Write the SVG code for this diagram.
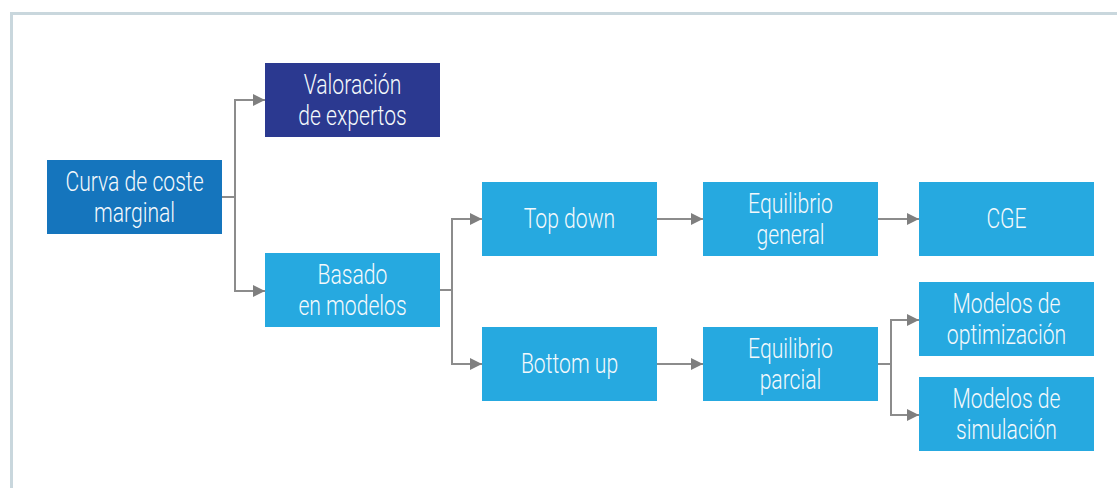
<svg xmlns="http://www.w3.org/2000/svg" width="1117" height="488" viewBox="0 0 1117 488">
<defs>
<style>
.box{fill:#26a9e0}
.dark{fill:#2b3990}
.mid{fill:#1575bd}
.lbl{font-family:Roboto,"Liberation Sans",sans-serif;font-size:28px;font-weight:300;fill:#f4f9fc;text-anchor:middle}
.con{fill:none;stroke:#8c8c8c;stroke-width:2}
</style>
<marker id="ah" markerUnits="userSpaceOnUse" markerWidth="12" markerHeight="12" refX="12" refY="6" orient="auto">
<path d="M0,0 L12,6 L0,12 Z" fill="#7f7f7f"/>
</marker>
</defs>
<rect width="1117" height="488" fill="#ffffff"/>
<path d="M11.5,488 V13.5 H1117" fill="none" stroke="#c9d7dd" stroke-width="3"/>
<g id="connectors">
<path class="con" d="M222,197 H235"/>
<path class="con" d="M235,197 V100 H265" marker-end="url(#ah)"/>
<path class="con" d="M235,197 V291 H265" marker-end="url(#ah)"/>
<path class="con" d="M440,290 H452"/>
<path class="con" d="M452,290 V219 H482" marker-end="url(#ah)"/>
<path class="con" d="M452,290 V364 H482" marker-end="url(#ah)"/>
<path class="con" d="M657,219 H703" marker-end="url(#ah)"/>
<path class="con" d="M878,219 H919" marker-end="url(#ah)"/>
<path class="con" d="M657,364 H703" marker-end="url(#ah)"/>
<path class="con" d="M878,364 H891"/>
<path class="con" d="M891,364 V320 H919" marker-end="url(#ah)"/>
<path class="con" d="M891,364 V415 H919" marker-end="url(#ah)"/>
</g>
<g id="curva">
<rect class="mid" x="47" y="160" width="175" height="74"/>
<text class="lbl" transform="translate(134.5,197) scale(0.755,1)"><tspan x="0" y="-6">Curva de coste</tspan><tspan x="0" y="25">marginal</tspan></text>
</g>
<g id="valoracion">
<rect class="dark" x="265" y="63" width="175" height="74"/>
<text class="lbl" transform="translate(352.5,100) scale(0.755,1)"><tspan x="0" y="-6">Valoración</tspan><tspan x="0" y="25">de expertos</tspan></text>
</g>
<g id="basado">
<rect class="box" x="265" y="253" width="175" height="74"/>
<text class="lbl" transform="translate(352.5,290) scale(0.755,1)"><tspan x="0" y="-6">Basado</tspan><tspan x="0" y="25">en modelos</tspan></text>
</g>
<g id="topdown">
<rect class="box" x="482" y="182" width="175" height="74"/>
<text class="lbl" transform="translate(569.5,219) scale(0.755,1)"><tspan x="0" y="9">Top down</tspan></text>
</g>
<g id="eqgeneral">
<rect class="box" x="703" y="182" width="175" height="74"/>
<text class="lbl" transform="translate(790.5,219) scale(0.755,1)"><tspan x="0" y="-6">Equilibrio</tspan><tspan x="0" y="25">general</tspan></text>
</g>
<g id="cge">
<rect class="box" x="919" y="182" width="175" height="74"/>
<text class="lbl" transform="translate(1006.5,219) scale(0.755,1)"><tspan x="0" y="9">CGE</tspan></text>
</g>
<g id="bottomup">
<rect class="box" x="482" y="327" width="175" height="74"/>
<text class="lbl" transform="translate(569.5,364) scale(0.755,1)"><tspan x="0" y="9">Bottom up</tspan></text>
</g>
<g id="eqparcial">
<rect class="box" x="703" y="327" width="175" height="74"/>
<text class="lbl" transform="translate(790.5,364) scale(0.755,1)"><tspan x="0" y="-6">Equilibrio</tspan><tspan x="0" y="25">parcial</tspan></text>
</g>
<g id="optimizacion">
<rect class="box" x="919" y="282" width="175" height="74"/>
<text class="lbl" transform="translate(1006.5,319) scale(0.755,1)"><tspan x="0" y="-6">Modelos de</tspan><tspan x="0" y="25">optimización</tspan></text>
</g>
<g id="simulacion">
<rect class="box" x="919" y="377" width="175" height="74"/>
<text class="lbl" transform="translate(1006.5,414) scale(0.755,1)"><tspan x="0" y="-6">Modelos de</tspan><tspan x="0" y="25">simulación</tspan></text>
</g>
</svg>
